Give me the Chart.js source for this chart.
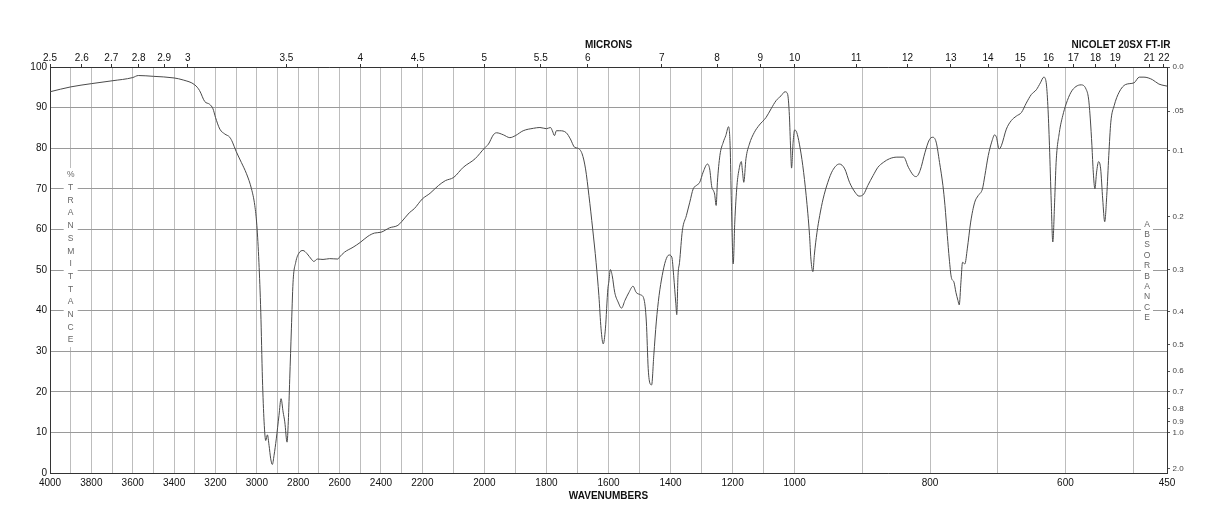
<!DOCTYPE html>
<html><head><meta charset="utf-8">
<script src="https://cdn.jsdelivr.net/npm/chart.js@4.4.1/dist/chart.umd.min.js"></script>
<style>html,body{margin:0;padding:0;background:#fff;}#wrap{width:1218px;height:528px;}</style>
</head><body><div id="wrap"><canvas id="c" width="1218" height="528"></canvas></div>
<script>
// ---- data ----
const wavenumbers = [
4000,3900,3800,3700,3600,3573,3500,3400,3356,3300,3277,3252,3228,3212,3200,3179,3155,3131,3118,3100,
3075,3050,3026,3010,3000,2990,2981,2973,2965,2957,2949,2941,2933,2925,2917,2906,2893,2883,2873,2865,
2854,2848,2841,2833,2825,2812,2796,2777,2757,2737,2724,2708,2680,2648,2608,2600,2576,2535,2500,2463,
2431,2400,2358,2318,2300,2263,2239,2200,2175,2148,2126,2099,2068,2030,2000,1987,1971,1961,1939,1918,
1900,1875,1842,1821,1800,1787,1781,1774,1768,1757,1736,1723,1709,1699,1685,1674,1663,1651,1640,1631,
1624,1617,1610,1602,
1599,1594,1588,1580,1569,1558,1547,1534,1521,1511,1497,1486,1478,1472,1466,1461,1454,1446,1437,1427,
1416,1405,1396,1390,1383,1380,1376,1371,1362,1349,1338,1327,1317,1306,1295,1281,1274,1267,1262,1258,
1253,1249,1241,1230,1222,1213,1208,1204,1198,1193,1186,1179,1172,1168,1164,1157,1146,1130,1114,1092,
1076,1060,1044,1031,1023,1017,1013,1010,1005,1000,997,993,988,983,978,976,973,971,967,963,
958,951,944,934,926,919,911,905,898,892,884,877,869,860,
849,839,832,824.5,820.6,814.7,807.4,801,796,791,786,781,778,774.5,771.6,768.6,764.7,761.8,758.8,756.9,
754.4,752,748.6,745,740,734,729,722.6,719,714,709,704.5,702,698,694.7,687.3,680,672.6,665,657.9,
650.5,643,637,632,628.5,626,623.6,621,618.7,616,613.8,609,604,599,591.8,584.4,577,569.7,565.8,563.3,
560.9,558.9,556.5,554,551,548,545,542,539,536,533,528,520.7,511,498.7,491,484,471.7,462,453,450
];
const transmittance = [
93.9,95.1,95.9,96.6,97.4,97.9,97.7,97.3,96.8,95.6,94.2,91.5,90.8,89.7,87.6,84.7,83.5,82.7,81.5,79.2,
76.5,73.7,70.0,65.9,61.0,51.9,39.6,23.2,12.6,8.0,9.4,6.8,3.5,2.1,4.3,8.4,14.2,18.3,15.0,12.6,
7.6,12.6,23.2,35.5,47.0,51.9,54.2,54.8,54.0,52.7,52.1,52.7,52.6,52.8,52.7,53.2,54.4,55.6,56.8,58.3,
59.1,59.3,60.4,61.0,61.9,64.1,65.1,67.5,68.9,70.8,72.0,72.8,75.3,77.4,80.0,81.0,83.3,83.8,83.3,82.6,
83.1,84.3,84.9,85.1,84.8,85.1,84.3,83.1,84.3,84.3,83.8,82.3,80.2,80.0,78.6,74.9,68.3,60.1,51.9,43.7,
35.5,31.8,35.5,45.4,
47.0,50.1,48.6,44.5,42.1,40.6,42.5,44.5,46.0,44.5,43.9,42.9,37.2,25.7,22.0,21.7,29.0,37.2,43.7,48.6,
52.3,53.7,53.2,48.6,41.7,39.0,48.6,51.9,59.7,63.4,66.7,70.0,70.8,71.6,74.1,76.1,74.9,70.4,69.6,68.7,
65.9,71.6,78.2,81.5,83.1,85.3,80.6,66.7,51.5,61.8,70.8,74.9,76.7,74.1,71.6,77.4,81.0,83.9,85.7,87.6,
89.7,91.7,92.9,93.9,93.4,88.0,79.8,75.1,81.5,84.5,83.9,81.0,75.7,68.3,58.5,52.7,49.6,53.6,59.3,63.4,
67.5,71.6,74.5,76.1,74.9,71.6,69.2,68.2,68.7,70.8,73.3,75.3,76.5,77.4,
77.8,77.8,75.3,73.3,73.0,74.5,79.0,82.1,82.7,81.5,76.5,70.8,65.9,58.5,52.7,48.2,47.0,44.5,42.5,41.4,
47.0,51.9,51.5,55.2,61.8,66.7,68.3,70.0,73.3,78.2,81.5,83.3,82.7,79.8,80.6,84.7,86.8,87.9,88.8,91.1,
93.2,94.4,96.1,97.5,96.2,90.5,80.6,66.7,56.9,66.7,76.5,83.9,88.0,90.9,93.8,95.2,95.6,94.6,92.1,87.2,
80.6,74.1,70.0,74.1,76.7,74.9,67.5,61.9,68.3,78.2,86.4,90.5,93.8,95.7,96.1,97.5,97.5,96.9,95.8,95.4,95.3
];
// ---- tick labels ----
const wavenumberLabels = [4000,3800,3600,3400,3200,3000,2800,2600,2400,2200,2000,1800,1600,1400,1200,1000,800,600,450];
const micronLabels = [2.5,2.6,2.7,2.8,2.9,3,3.5,4,4.5,5,5.5,6,7,8,9,10,11,12,13,14,15,16,17,18,19,21,22];
const absorbanceLabels = ['0.0','.05','0.1','0.2','0.3','0.4','0.5','0.6','0.7','0.8','0.9','1.0','2.0'];
const absorbanceValues = [0,0.05,0.1,0.2,0.3,0.4,0.5,0.6,0.7,0.8,0.9,1.0,2.0];
const transmittanceTicks = [0,10,20,30,40,50,60,70,80,90,100];

// grid every 100 cm-1 plus the 450 end
const wavenumberGrid = [];
for (let w = 4000; w >= 500; w -= 100) wavenumberGrid.push(w);
wavenumberGrid.push(450);

// ---- piecewise wavenumber scale (three equal-width segments) ----
const BREAKS = [4000, 2200, 1000, 450];
function wnToDec(v) {
  if (v >= BREAKS[0]) return 0;
  for (let i = 0; i < 3; i++) {
    if (v >= BREAKS[i + 1]) return (i + (BREAKS[i] - v) / (BREAKS[i] - BREAKS[i + 1])) / 3;
  }
  return 1;
}
function decToWn(d) {
  const s = Math.min(2, Math.max(0, Math.floor(d * 3)));
  const f = d * 3 - s;
  return BREAKS[s] - f * (BREAKS[s] - BREAKS[s + 1]);
}
class IRScale extends Chart.LinearScale {
  getPixelForValue(v) {
    if (v === null || v === undefined || isNaN(v)) return NaN;
    return this.getPixelForDecimal(wnToDec(v));
  }
  getValueForPixel(p) { return decToWn(this.getDecimalForPixel(p)); }
}
IRScale.id = 'irwave';
IRScale.defaults = Chart.LinearScale.defaults;
Chart.register(IRScale);

Chart.defaults.font.family = '"Liberation Sans", Arial, Helvetica, sans-serif';
Chart.defaults.font.size = 10;

const textPlugin = {
  id: 'irText',
  beforeDatasetsDraw(chart) {
    const ctx = chart.ctx, ca = chart.chartArea;
    const drawColumn = (text, x, y0, step, w) => {
      const n = text.length;
      ctx.save();
      ctx.fillStyle = '#fff';
      ctx.fillRect(x - w / 2, y0 - 7, w, (n - 1) * step + 14);
      ctx.fillStyle = '#666';
      ctx.font = '8.5px "Liberation Sans", Arial, sans-serif';
      ctx.textAlign = 'center';
      ctx.textBaseline = 'middle';
      for (let i = 0; i < n; i++) ctx.fillText(text[i], x, y0 + i * step);
      ctx.restore();
    };
    drawColumn('%TRANSMITTANCE', chart.scales.x.getPixelForValue(3900), 175, 12.7, 14);
    drawColumn('ABSORBANCE', ca.right - 20, 224.3, 10.4, 12);
  },
  afterDraw(chart) {
    const ctx = chart.ctx, ca = chart.chartArea;
    ctx.save();
    ctx.fillStyle = '#111';
    ctx.font = 'bold 10px "Liberation Sans", Arial, sans-serif';
    ctx.textAlign = 'center';
    ctx.textBaseline = 'middle';
    const cx = (ca.left + ca.right) / 2;
    ctx.fillText('MICRONS', cx, 45);
    ctx.fillText('NICOLET 20SX FT-IR', ca.right - 46, 45);
    ctx.fillText('WAVENUMBERS', cx, 496.5);
    ctx.restore();
  }
};

new Chart(document.getElementById('c'), {
  type: 'line',
  data: {
    datasets: [{
      data: wavenumbers.map((w, i) => ({ x: w, y: transmittance[i] })),
      borderColor: '#4a4a4a',
      borderWidth: 1,
      pointRadius: 0,
      fill: false,
      cubicInterpolationMode: 'monotone',
      xAxisID: 'x',
      yAxisID: 'y'
    }]
  },
  options: {
    responsive: false,
    animation: false,
    devicePixelRatio: 1,
    layout: { padding: 0 },
    plugins: { legend: { display: false }, tooltip: { enabled: false }, title: { display: false } },
    scales: {
      x: {
        type: 'irwave', position: 'bottom', min: 450, max: 4000,
        afterBuildTicks: s => { s.ticks = wavenumberGrid.map(v => ({ value: v })); },
        afterFit: s => { s.height = 55; },
        ticks: { autoSkip: false, maxRotation: 0, padding: 4, color: '#111',
          callback: v => wavenumberLabels.includes(v) ? String(v) : '' },
        grid: { color: '#bdbdbd', lineWidth: 1, drawTicks: false },
        border: { color: '#333', width: 1 }
      },
      x2: {
        type: 'irwave', position: 'top', min: 450, max: 4000,
        afterBuildTicks: s => { s.ticks = micronLabels.map(m => ({ value: 10000 / m })); },
        afterFit: s => { s.height = 67; },
        ticks: { autoSkip: false, maxRotation: 0, padding: 0, color: '#111',
          callback: (v, i) => String(micronLabels[i]) },
        grid: { drawOnChartArea: false, drawTicks: true, tickLength: 3, color: '#333' },
        border: { color: '#333', width: 1 }
      },
      y: {
        type: 'linear', position: 'left', min: 0, max: 100,
        afterBuildTicks: s => { s.ticks = transmittanceTicks.map(v => ({ value: v })); },
        afterFit: s => { s.width = 50; },
        ticks: { autoSkip: false, padding: 3, color: '#111' },
        grid: { color: '#9a9a9a', lineWidth: 1, drawTicks: false },
        border: { color: '#333', width: 1 }
      },
      yA: {
        type: 'linear', position: 'right', min: 0, max: 100,
        afterBuildTicks: s => { s.ticks = absorbanceValues.map(a => ({ value: 100 * Math.pow(10, -a) })); },
        afterFit: s => { s.width = 51; },
        ticks: { autoSkip: false, padding: 2.5, color: '#444', font: { size: 8 },
          callback: (v, i) => absorbanceLabels[i] },
        grid: { drawOnChartArea: false, drawTicks: true, tickLength: 3, color: '#555' },
        border: { color: '#333', width: 1 }
      }
    }
  },
  plugins: [textPlugin]
});
</script>
</body></html>
